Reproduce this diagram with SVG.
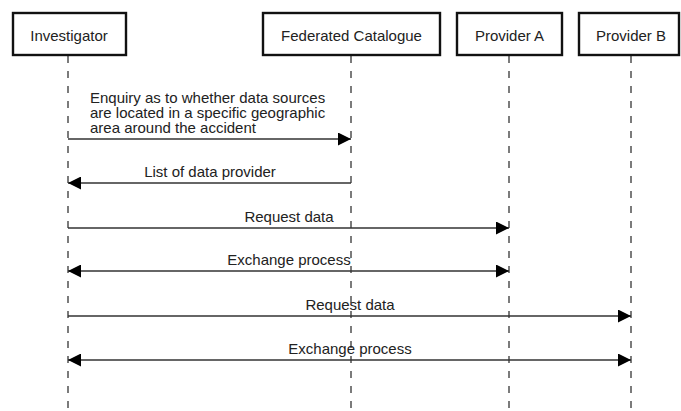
<svg xmlns="http://www.w3.org/2000/svg" width="681" height="411" viewBox="0 0 681 411">
  <style>
    .box { fill: #ffffff; stroke: #111111; stroke-width: 2.4; }
    .name { font-family: "Liberation Sans", Arial, sans-serif; font-size: 15px; fill: #222222; text-anchor: middle; }
    .life { stroke: #444444; stroke-width: 1.4; stroke-dasharray: 7 8; fill: none; }
    .msg { stroke: #333333; stroke-width: 1.4; fill: none; }
    .lbl { font-family: "Liberation Sans", Arial, sans-serif; font-size: 15px; fill: #222222; text-anchor: middle; }
    .lblL { font-family: "Liberation Sans", Arial, sans-serif; font-size: 15px; fill: #222222; }
  </style>
  <defs>
    <marker id="head" viewBox="0 0 13 13" refX="13" refY="6.5" markerWidth="13" markerHeight="13" markerUnits="userSpaceOnUse" orient="auto-start-reverse">
      <path d="M0,0 L13,6.5 L0,13 Z" fill="#000000"/>
    </marker>
  </defs>

  <rect width="681" height="411" fill="#ffffff"/>

  <!-- participants with their lifelines -->
  <g id="investigator">
    <line class="life" x1="68" y1="56" x2="68" y2="411"/>
    <rect class="box" x="13" y="13" width="113" height="42"/>
    <text class="name" x="69" y="40.5">Investigator</text>
  </g>
  <g id="federated-catalogue">
    <line class="life" x1="351" y1="56" x2="351" y2="411"/>
    <rect class="box" x="263" y="13" width="177" height="42"/>
    <text class="name" x="351.5" y="40.5">Federated Catalogue</text>
  </g>
  <g id="provider-a">
    <line class="life" x1="509" y1="56" x2="509" y2="411"/>
    <rect class="box" x="457" y="13" width="105" height="42"/>
    <text class="name" x="509.5" y="40.5">Provider A</text>
  </g>
  <g id="provider-b">
    <line class="life" x1="631" y1="56" x2="631" y2="411"/>
    <rect class="box" x="579" y="13" width="100" height="42"/>
    <text class="name" x="631" y="40.5">Provider B</text>
  </g>

  <!-- messages -->
  <g id="connectors">
    <line class="msg" x1="68" y1="139" x2="351" y2="139" marker-end="url(#head)"/>
    <text class="lblL" x="90" y="103">Enquiry as to whether data sources<tspan x="90" dy="15">are located in a specific geographic</tspan><tspan x="90" dy="15">area around the accident</tspan></text>

    <line class="msg" x1="351" y1="183" x2="68" y2="183" marker-end="url(#head)"/>
    <text class="lbl" x="210" y="177">List of data provider</text>

    <line class="msg" x1="68" y1="228" x2="509" y2="228" marker-end="url(#head)"/>
    <text class="lbl" x="289" y="222">Request data</text>

    <line class="msg" x1="68" y1="271" x2="509" y2="271" marker-start="url(#head)" marker-end="url(#head)"/>
    <text class="lbl" x="289" y="265">Exchange process</text>

    <line class="msg" x1="68" y1="316" x2="631" y2="316" marker-end="url(#head)"/>
    <text class="lbl" x="350" y="310">Request data</text>

    <line class="msg" x1="68" y1="360" x2="631" y2="360" marker-start="url(#head)" marker-end="url(#head)"/>
    <text class="lbl" x="350" y="354">Exchange process</text>
  </g>
</svg>
